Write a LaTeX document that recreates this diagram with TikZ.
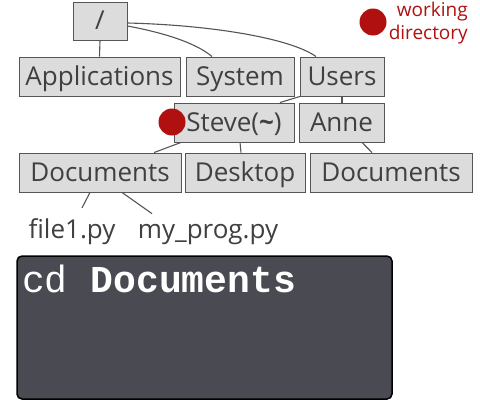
\documentclass[tikz,border=0pt]{standalone}
\usepackage{fontspec}
\setmainfont{Open Sans}
\newfontfamily\termfont{Liberation Mono}
\usetikzlibrary{positioning}
\definecolor{boxgrey}{HTML}{DCDCDC}
\definecolor{linegrey}{HTML}{555555}
\definecolor{txtgrey}{HTML}{404040}
\definecolor{dotred}{HTML}{B01010}
\definecolor{termgrey}{HTML}{4A4B52}
\tikzset{dir/.style = {draw=linegrey, fill=boxgrey, line width=0.9, text=txtgrey,
    minimum height=39, inner sep=0, text height=21, text depth=4,
    font=\fontsize{26}{30}\selectfont},
  fname/.style = {text=txtgrey, inner sep=0, font=\fontsize{26}{30}\selectfont},
  link/.style = {draw=linegrey, line width=1.1},
  wdot/.style = {fill=dotred, circle, inner sep=0, minimum size=27}}

\begin{document}
\begin{tikzpicture}[x=1pt, y=-1pt]
    \useasboundingbox (0, 0) rectangle (480, 402);
    \fill [white] (0, 0) rectangle (480, 402);

    % tree of directories
    \node [dir, minimum width=54, minimum height=38] (root) at (100, 21) {/};
    \node [dir, minimum width=161] (apps) at (99.5, 76.5) {Applications};
    \node [dir, minimum width=108] (system) at (240, 76.5) {System};
    \node [dir, minimum width=84] (users) at (342, 76.5) {Users};
    \node [dir, minimum width=120] (steve) at (234, 122.5) {Steve(\textbf{\char`\~})};
    \node [dir, minimum width=85] (anne) at (341.5, 122.5) {Anne};
    \node [dir, minimum width=162] (docs) at (100, 172.5) {Documents};
    \node [dir, minimum width=120] (desktop) at (245, 172.5) {Desktop};
    \node [dir, minimum width=162] (annedocs) at (391, 172.5) {Documents};
    \node [fname, anchor=base] (file) at (72, 238) {file1.py};
    \node [fname, anchor=base] (prog) at (208, 238) {my\_prog.py};

    \draw [link] (root.south) -- (apps.north);
    \draw [link] ([yshift=-5]root.east) .. controls (160, 32) and (195, 42) .. ([xshift=-28]system.north);
    \draw [link] ([yshift=-2]root.east) .. controls (210, 25) and (290, 38) .. ([xshift=-26]users.north);
    \draw [link] ([xshift=-42]users.south) -- ([xshift=46]steve.north);
    \draw [link] (users.south) -- ([xshift=0.5]anne.north);
    \draw [link] ([xshift=-53]steve.south) -- ([xshift=54]docs.north);
    \draw [link] ([xshift=6]steve.south) -- ([xshift=-4]desktop.north);
    \draw [link] ([xshift=20.5]anne.south) -- ([xshift=-19]annedocs.north);
    \draw [link] ([xshift=-10]docs.south) -- ([xshift=10, yshift=10]file.north);
    \draw [link] ([xshift=22]docs.south) -- ([xshift=-56, yshift=10]prog.north);

    % working directory marks
    \node [wdot] (here) at (172, 122) {};
    \node [wdot] (legend) at (373, 22) {};
    \node [text=dotred, align=right, inner sep=0, font=\fontsize{19}{23}\selectfont,
      anchor=east] (wd) at (468, 23) {working\\directory};

    % terminal
    \node [draw=black, line width=1.5, fill=termgrey, rounded corners=5,
      minimum width=375, minimum height=143] (term) at (204.5, 327.5) {};
    \node [anchor=base west, inner sep=0, text=white, font=\termfont\fontsize{38}{40}\selectfont]
      (cmd) at (22, 292) {cd \textbf{Documents}};
  \end{tikzpicture}
\end{document}
